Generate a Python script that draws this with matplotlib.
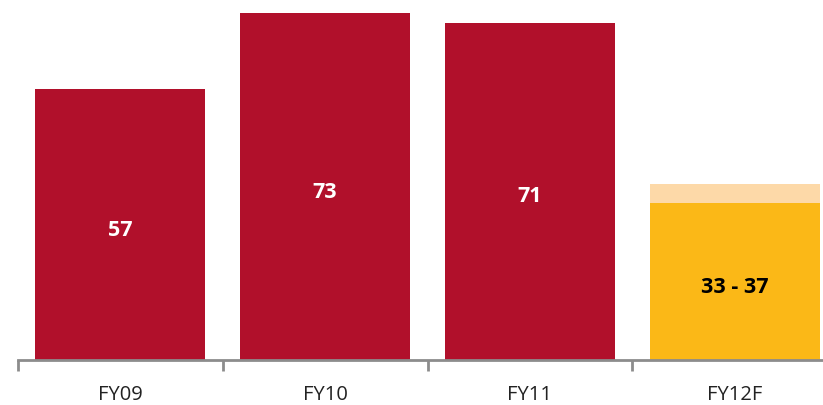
import matplotlib
matplotlib.use("Agg")
import matplotlib.pyplot as plt
import numpy as np

categories = ["FY09", "FY10", "FY11", "FY12F"]
actual = [57, 73, 71, None]
forecast_low = 33
forecast_high = 37
labels = ["57", "73", "71", "33 - 37"]

red = "#B1102B"
gold = "#FBB817"
pale = "#FDD9A8"
axis_grey = "#8C8C8C"

W, H = 823, 406
fig = plt.figure(figsize=(W / 100, H / 100), dpi=100)
left_px, right_px = 18, 837
base_px = 360.5
ax = fig.add_axes([left_px / W, (H - base_px) / H, (right_px - left_px) / W, base_px / H])

x = np.arange(len(categories))
bw = 0.83
for i, v in enumerate(actual):
    if v is not None:
        ax.bar(x[i], v, width=bw, color=red, zorder=2)
# forecast range: solid up to the low estimate, pale band to the high estimate
ax.bar(x[3], forecast_low, width=bw, color=gold, zorder=2)
ax.bar(x[3], forecast_high - forecast_low, bottom=forecast_low, width=bw, color=pale, zorder=2)

for i, v in enumerate(actual):
    if v is not None:
        ax.text(x[i], v / 2 - 1.0, labels[i], ha="center", va="center",
                color="white", fontsize=15.5, fontweight="bold", family="Open Sans")
ax.text(x[3], forecast_low / 2 - 1.2, labels[3], ha="center", va="center",
        color="black", fontsize=15.5, fontweight="bold", family="Open Sans")

ax.set_xlim(-0.5, len(categories) - 0.5)
ax.set_ylim(0, 76)
ax.set_yticks([])
for s in ["left", "right", "top"]:
    ax.spines[s].set_visible(False)
ax.spines["bottom"].set_color(axis_grey)
ax.spines["bottom"].set_linewidth(2)

ax.set_xticks(x)
ax.set_xticklabels(categories, fontsize=14.5, family="Open Sans", color="#222222")
ax.tick_params(axis="x", which="major", length=0, pad=18)
ax.set_xticks(np.arange(len(categories)) - 0.5, minor=True)
ax.tick_params(axis="x", which="minor", length=8, width=2, color=axis_grey)

fig.savefig("out.png", dpi=100)
